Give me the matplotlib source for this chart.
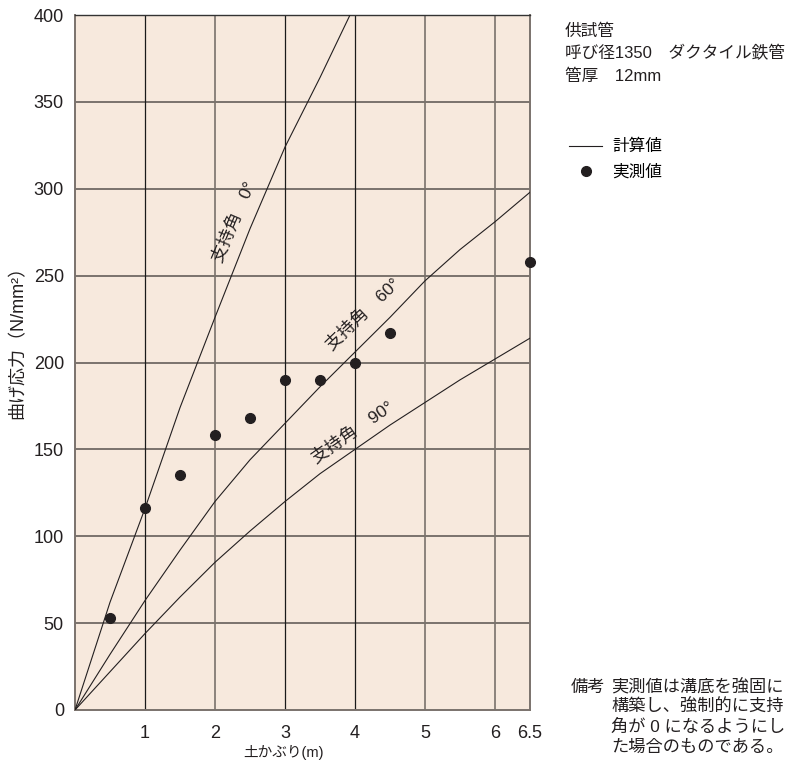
import matplotlib
matplotlib.use('Agg')
import matplotlib.pyplot as plt
from matplotlib.lines import Line2D

plt.rcParams['font.family'] = ['Liberation Sans', 'Noto Sans CJK JP', 'DejaVu Sans']

# 計算値 (支持角ごとの曲げ応力)
cover_0 = [0, 0.5, 1, 1.5, 2, 2.5, 3, 3.5, 4]
stress_0 = [0, 62, 116, 174, 226, 277, 324, 364, 406]

cover_calc = [0, 0.5, 1, 1.5, 2, 2.5, 3, 3.5, 4, 4.5, 5, 5.5, 6, 6.5]
stress_60 = [0, 32, 63, 92, 120, 144, 165, 186, 206, 226, 247, 265, 281, 298]
stress_90 = [0, 22, 44, 65, 85, 103, 120, 136, 150, 164, 177, 190, 202, 214]

# 実測値
cover_meas = [0.5, 1, 1.5, 2, 2.5, 3, 3.5, 4, 4.5, 6.5]
stress_meas = [53, 116, 135, 158, 168, 190, 190, 200, 217, 258]

xticks = [1, 2, 3, 4, 5, 6, 6.5]
xticklabels = ['1', '2', '3', '4', '5', '6', '6.5']
yticks = [0, 50, 100, 150, 200, 250, 300, 350, 400]

fig = plt.figure(figsize=(7.88, 7.6), dpi=100)
ax = fig.add_axes([75 / 788, 50 / 760, 455 / 788, 695 / 760])
ax.set_facecolor('#f7e9dd')

grey = '#7a726c'
ax.set_xlim(0, 6.5)
ax.set_ylim(0, 400)
ax.set_xticks(xticks)
ax.set_xticklabels(xticklabels)
ax.set_yticks(yticks)
ax.tick_params(length=0, labelsize=13, colors='#231f20')
ax.tick_params(axis='x', pad=11)
ax.tick_params(axis='y', pad=8)

for y in yticks[1:-1]:
    ax.axhline(y, color=grey, lw=1.4, zorder=1)
# 縦の目盛線: 1, 3, 4 m は黒、それ以外は灰色
vcolors = ['#1a1a1a', grey, '#1a1a1a', '#1a1a1a', grey, grey]
for x, c in zip(xticks[:-1], vcolors):
    ax.axvline(x, color=c, lw=1.2 if c == grey else 0.9, zorder=1)

for side in ['left', 'bottom', 'right']:
    ax.spines[side].set_color(grey)
    ax.spines[side].set_linewidth(1.4)
ax.spines['top'].set_color('#333333')
ax.spines['top'].set_linewidth(1.0)

lc = '#231f20'
ax.plot(cover_0, stress_0, color=lc, lw=0.8, zorder=3)
ax.plot(cover_calc, stress_60, color=lc, lw=0.8, zorder=3)
ax.plot(cover_calc, stress_90, color=lc, lw=0.8, zorder=3)
ax.plot(cover_meas, stress_meas, 'o', color=lc, ms=7, zorder=4, clip_on=False)

# 曲線のラベル
lab = dict(fontsize=12.5, color='#231f20', ha='center', va='center',
           rotation_mode='anchor', zorder=5)
ax.text(2.27, 281, '支持角　0°', rotation=67, **lab)
ax.text(4.11, 228, '支持角　60°', rotation=44, **lab)
ax.text(3.96, 160, '支持角　90°', rotation=35, **lab)

fig.text(283 / 788, 1 - 752 / 760, '土かぶり(m)', fontsize=10.5, color='#231f20',
         ha='center', va='center')
fig.text(18 / 788, 1 - 338 / 760, '曲げ応力（N/mm²）', fontsize=13, color='#231f20',
         ha='center', va='center', rotation=90)

info = dict(fontsize=12, color='#231f20', ha='left', va='center')
fig.text(565 / 788, 1 - 31 / 760, '供試管', **info)
fig.text(565 / 788, 1 - 53 / 760, '呼び径1350　ダクタイル鉄管', **info)
fig.text(565 / 788, 1 - 76 / 760, '管厚　12mm', **info)

handles = [Line2D([], [], color=lc, lw=0.8),
           Line2D([], [], ls='none', marker='o', color=lc, ms=7)]
fig.legend(handles, ['計算値', '実測値'], loc='upper left',
           bbox_to_anchor=(554 / 788, 1 - 124 / 760), frameon=False,
           fontsize=12, handlelength=2.0, handletextpad=0.6, labelspacing=0.6)

note = dict(fontsize=12.4, color='#231f20', ha='left', va='center')
fig.text(571 / 788, 1 - 687 / 760, '備考', **note)
for i, line in enumerate(['実測値は溝底を強固に', '構築し、強制的に支持',
                          '角が 0 になるようにし', 'た場合のものである。']):
    fig.text(611 / 788, 1 - (687 + 20 * i) / 760, line, **note)

fig.savefig('out.png', dpi=100)
